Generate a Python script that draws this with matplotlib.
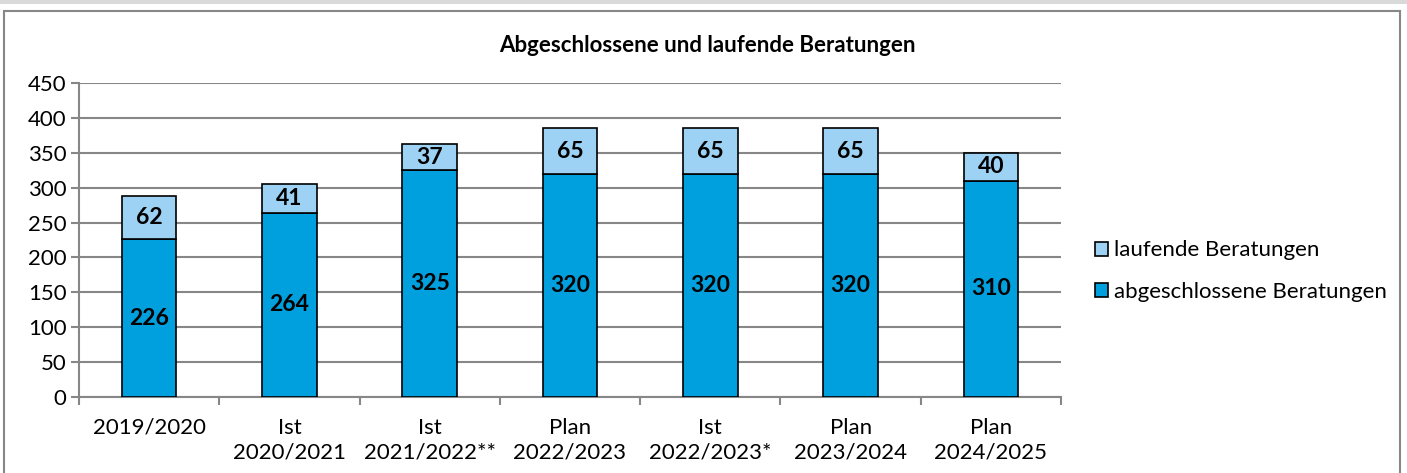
import matplotlib.pyplot as plt
from matplotlib.patches import Rectangle

categories = ["2019/2020", "Ist\n2020/2021", "Ist\n2021/2022**", "Plan\n2022/2023",
              "Ist\n2022/2023*", "Plan\n2023/2024", "Plan\n2024/2025"]
abgeschlossen = [226, 264, 325, 320, 320, 320, 310]
laufend = [62, 41, 37, 65, 65, 65, 40]

dark_blue = "#00A0DE"
light_blue = "#9DD2F4"

plt.rcParams['font.family'] = ['Lato', 'DejaVu Sans']

fig = plt.figure(figsize=(14.07, 4.73), dpi=100)
ax = fig.add_axes([79/1407, 1-397/473, (1061-79)/1407, (397-83)/473])

x = list(range(len(categories)))
w = 0.39
b1 = ax.bar(x, abgeschlossen, w, color=dark_blue, edgecolor="black", linewidth=1.2,
            label="abgeschlossene Beratungen", zorder=3)
b2 = ax.bar(x, laufend, w, bottom=abgeschlossen, color=light_blue, edgecolor="black",
            linewidth=1.2, label="laufende Beratungen", zorder=3)

for i in x:
    ax.text(i, abgeschlossen[i]/2, str(abgeschlossen[i]), ha="center", va="center",
            fontsize=16.5, fontweight="bold", zorder=4)
    ax.text(i, abgeschlossen[i] + laufend[i]/2, str(laufend[i]), ha="center", va="center",
            fontsize=16.5, fontweight="bold", zorder=4)

ax.set_ylim(0, 450)
ax.set_yticks(range(0, 451, 50))
ax.set_xlim(-0.5, len(categories)-0.5)
ax.set_xticks(x)
ax.set_xticklabels(categories, fontsize=16, linespacing=1.3)
ax.tick_params(axis="x", length=0, pad=15)
ax.set_xticks([i+0.5 for i in range(-1, len(categories))], minor=True)
ax.tick_params(axis="x", which="minor", length=6, color="#878787", width=1.5)
ax.tick_params(axis="y", labelsize=16, length=6, color="#878787", width=1.5, pad=3)
ax.yaxis.grid(True, color="#878787", linewidth=1.5, zorder=0)
for s in ["top", "right"]:
    ax.spines[s].set_visible(False)
ax.spines["left"].set_color("#878787")
ax.spines["left"].set_linewidth(1.5)
ax.spines["bottom"].set_color("#878787")
ax.spines["bottom"].set_linewidth(1.5)

fig.text(0.503, 1-45/473, "Abgeschlossene und laufende Beratungen", ha="center", va="center",
         fontsize=16, fontweight="bold")

handles, labels = ax.get_legend_handles_labels()
fig.legend(handles[::-1], labels[::-1], loc="center left", bbox_to_anchor=(1095/1407, 1-271/473),
           frameon=False, fontsize=16, handlelength=0.6, handleheight=0.6, handletextpad=0.25,
           labelspacing=0.95, borderaxespad=0, borderpad=0)

fig.patches.append(Rectangle((4/1407, -0.1), 1396/1407, 1.1-11/473, transform=fig.transFigure,
                             fill=False, edgecolor="#878787", linewidth=1.5))
fig.patches.append(Rectangle((0, 1-4/473), 1, 4/473, transform=fig.transFigure,
                             facecolor="#d9d9d9", edgecolor="none"))

fig.savefig("out.png", dpi=100)
